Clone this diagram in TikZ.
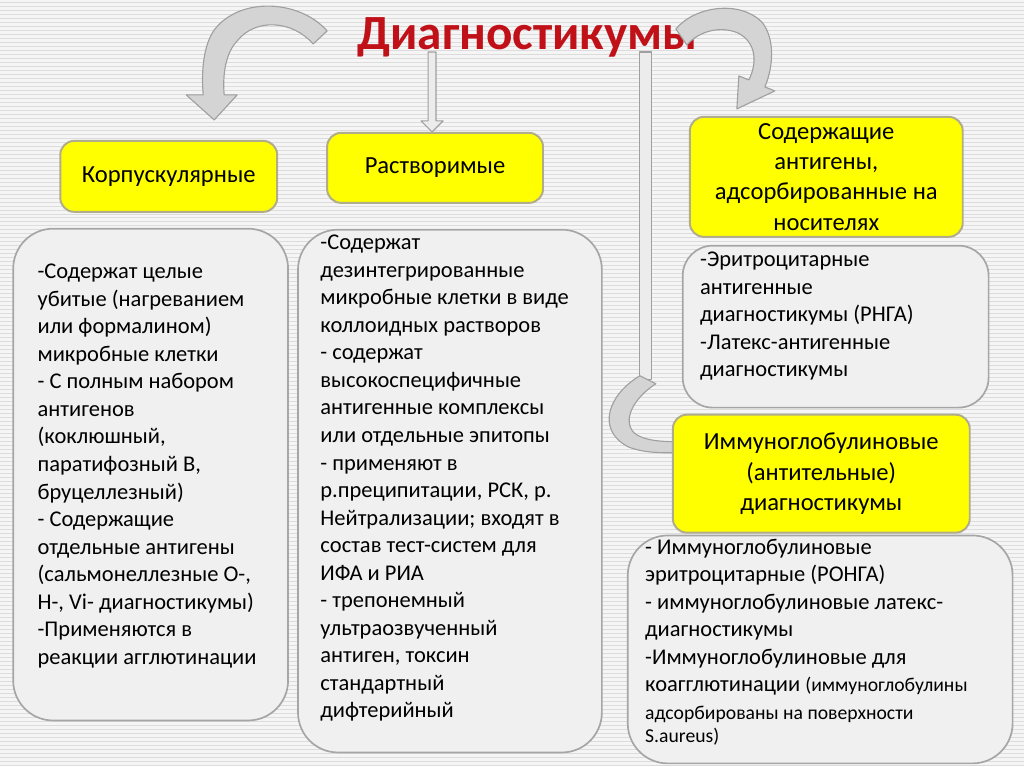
\documentclass[tikz,border=0pt]{standalone}
\usepackage{fontspec}
\setmainfont{Carlito}
\definecolor{titlered}{RGB}{192,16,24}
\definecolor{boxyellow}{RGB}{255,255,0}
\definecolor{yellowrim}{RGB}{176,172,140}
\definecolor{paper}{RGB}{245,245,245}
\definecolor{stripe}{RGB}{220,220,220}
\definecolor{arrowfill}{RGB}{212,212,212}
\definecolor{arrowrim}{RGB}{160,160,160}
\begin{document}
\begin{tikzpicture}[x=0.025cm, y=-0.025cm, line join=round,
    ybox/.style={draw=yellowrim, line width=1.4pt, fill=boxyellow, rounded corners=0.35cm,
        align=center, font=\fontsize{17.5}{21.5}\selectfont, inner sep=2pt},
    gbox/.style={draw=gray!70, line width=1.2pt, fill=gray!12, anchor=north west, inner sep=0pt},
    body/.style={align=left, anchor=north west, inner sep=0pt, font=\fontsize{16}{19.6}\selectfont},
    blockarrow/.style={draw=arrowrim, line width=0.8pt, fill=arrowfill}]
    \fill[paper] (0,0) rectangle (1024,767);
    \foreach \y in {2,6,...,766} {
        \draw[stripe, line width=0.5pt] (0,\y) -- (1024,\y);
    }
    \useasboundingbox (0,0) rectangle (1024,767);

    \node[anchor=base west, text=titlered, inner sep=0pt,
        font=\fontsize{35}{40}\selectfont\bfseries] (title) at (357,50) {Диагностикумы};

    \filldraw[blockarrow] (327,31) .. controls (300,0) and (240,-4) .. (214,30)
        .. controls (203,46) and (201,72) .. (203,95) -- (186,95) -- (214,120) -- (237,95) -- (224,95)
        .. controls (222,74) and (226,52) .. (237,41) .. controls (255,18) and (292,20) .. (313,44) -- cycle;
    \filldraw[blockarrow, fill=gray!15] (428,52) -- (436,52) -- (436,121) -- (443,121) -- (432,132)
        -- (421,121) -- (428,121) -- cycle;
    \filldraw[blockarrow] (676,29) .. controls (695,6) and (740,0) .. (762,22)
        .. controls (775,38) and (774,66) .. (765,87) -- (775,91) -- (737,109) -- (739,76) -- (749,80)
        .. controls (758,62) and (756,42) .. (738,33) .. controls (722,26) and (700,30) .. (687,45) -- cycle;
    \filldraw[blockarrow, fill=gray!15] (640,52) rectangle (652,380);
    \filldraw[blockarrow] (640,376) .. controls (608,395) and (596,430) .. (628,447)
        .. controls (645,454) and (665,453) .. (677,453) -- (677,462) -- (692,445) -- (677,432) -- (677,442)
        .. controls (662,442) and (643,441) .. (634,433) .. controls (622,420) and (634,398) .. (656,384) -- cycle;

    \node[ybox, minimum width=5.425cm, minimum height=1.775cm] (korp) at (168.5,176.5) {Корпускулярные};
    \node[ybox, minimum width=5.4cm, minimum height=1.75cm] (rastv) at (435,168) {Растворимые};
    \node[ybox, minimum width=6.825cm, minimum height=3cm] (nosit) at (826.5,177)
        {Содержащие\\антигены,\\адсорбированные на\\носителях};
    \node[ybox, minimum width=7.425cm, minimum height=2.95cm] (immun) at (821.5,474)
        {Иммуноглобулиновые\\(антительные)\\диагностикумы};

    \node[gbox, rounded corners=1cm, minimum width=6.875cm, minimum height=12.3cm] (korpbox) at (12,228) {};
    \node[gbox, rounded corners=1cm, minimum width=7.6cm, minimum height=13.075cm] (rastvbox) at (297,229) {};
    \node[gbox, rounded corners=0.75cm, minimum width=7.65cm, minimum height=4.05cm] (nositbox) at (682,245) {};
    \node[gbox, rounded corners=1cm, minimum width=9.625cm, minimum height=5.7cm] (immunbox) at (627,535) {};

    \node[body] (korptxt) at (37,264) {-Содержат целые\\убитые (нагреванием\\или формалином)\\микробные клетки\\
        - С полным набором\\антигенов\\(коклюшный,\\паратифозный В,\\бруцеллезный)\\- Содержащие\\
        отдельные антигены\\(сальмонеллезные О-,\\Н-, Vi- диагностикумы)\\-Применяются в\\реакции агглютинации};
    \node[body] (rastvtxt) at (320,235) {-Содержат\\дезинтегрированные\\микробные клетки в виде\\коллоидных растворов\\
        - содержат\\высокоспецифичные\\антигенные комплексы\\или отдельные эпитопы\\- применяют в\\
        р.преципитации, РСК, р.\\Нейтрализации; входят в\\состав тест-систем для\\ИФА и РИА\\
        - трепонемный\\ультраозвученный\\антиген, токсин\\стандартный\\дифтерийный};
    \node[body] (nosittxt) at (700,252) {-Эритроцитарные\\антигенные\\диагностикумы (РНГА)\\-Латекс-антигенные\\диагностикумы};
    \node[body] (immuntxt) at (645,539) {- Иммуноглобулиновые\\эритроцитарные (РОНГА)\\
        - иммуноглобулиновые латекс-\\диагностикумы\\-Иммуноглобулиновые для\\
        коагглютинации {\fontsize{14}{17}\selectfont (иммуноглобулины}\\
        {\fontsize{14}{17}\selectfont адсорбированы на поверхности}\\[-3pt]
        {\fontsize{14}{17}\selectfont S.aureus)}};
\end{tikzpicture}
\end{document}
